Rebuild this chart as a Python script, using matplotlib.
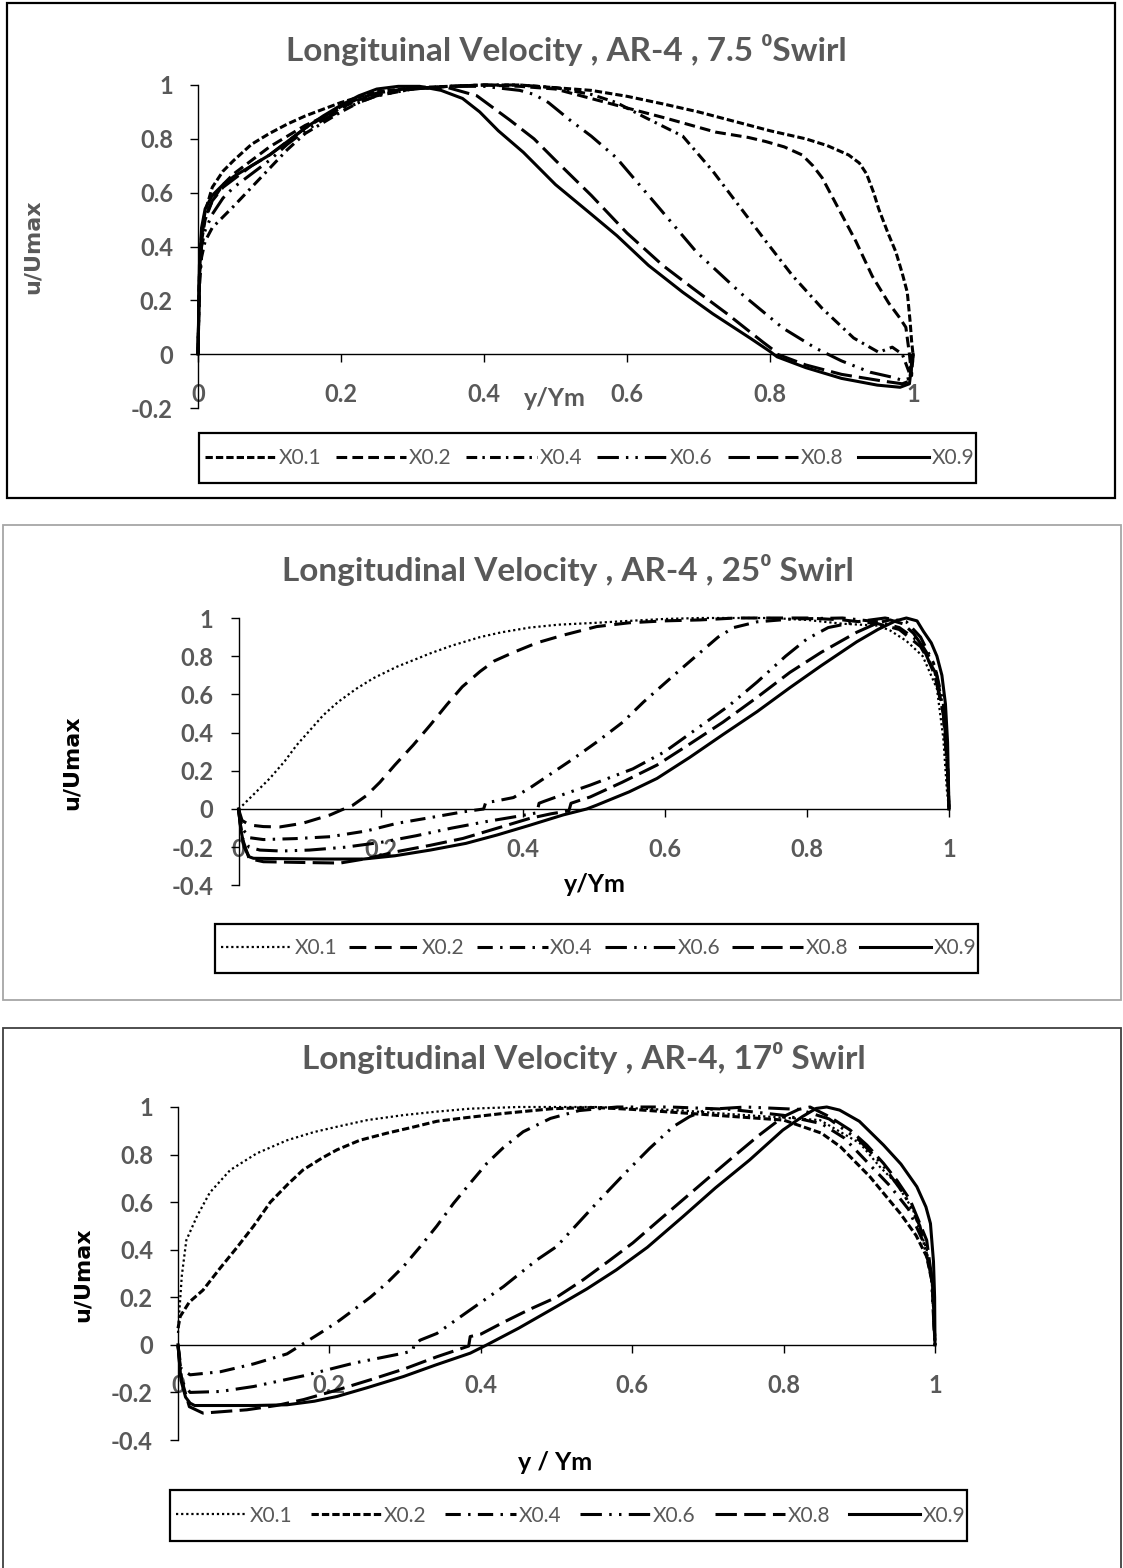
import matplotlib
matplotlib.use('Agg')
import matplotlib.pyplot as plt
from matplotlib.patches import Rectangle
from matplotlib.font_manager import FontProperties

W, H = 1123, 1568
fig = plt.figure(figsize=(W / 100, H / 100), dpi=100)

GRAY = '#595959'
CAL = ['Lato', 'DejaVu Sans']

series_names = ['X0.1', 'X0.2', 'X0.4', 'X0.6', 'X0.8', 'X0.9']
x_ticks = [0, 0.2, 0.4, 0.6, 0.8, 1]
x_tick_labels = ['0', '0.2', '0.4', '0.6', '0.8', '1']
p1_y_ticks = [-0.2, 0, 0.2, 0.4, 0.6, 0.8, 1]
p1_y_tick_labels = ['-0.2', '0', '0.2', '0.4', '0.6', '0.8', '1']
p23_y_ticks = [-0.4, -0.2, 0, 0.2, 0.4, 0.6, 0.8, 1]
p23_y_tick_labels = ['-0.4', '-0.2', '0', '0.2', '0.4', '0.6', '0.8', '1']

titles = ['Longituinal Velocity , AR-4 , 7.5 \u2070Swirl',
          'Longitudinal Velocity , AR-4 , 25\u2070 Swirl',
          'Longitudinal Velocity , AR-4, 17\u2070 Swirl']
x_labels = ['y/Ym', 'y/Ym', 'y / Ym']
y_label = 'u/Umax'

# ---------------- Panel 1 : 7.5 deg swirl ----------------
p1_y01 = [0, 0.002, 0.005, 0.01, 0.02, 0.035, 0.05, 0.075, 0.1, 0.125, 0.15, 0.175, 0.2, 0.225, 0.25, 0.3,
          0.35, 0.4, 0.45, 0.5, 0.55, 0.6, 0.65, 0.7, 0.75, 0.8, 0.85, 0.88, 0.91, 0.925, 0.935, 0.945,
          0.952, 0.965, 0.976, 0.985, 0.992, 0.996, 0.998, 1.0]
p1_u01 = [0, 0.3, 0.45, 0.53, 0.62, 0.68, 0.72, 0.78, 0.82, 0.855, 0.885, 0.91, 0.935, 0.955, 0.975, 0.99,
          0.995, 1.0, 1.0, 0.99, 0.98, 0.958, 0.93, 0.9, 0.865, 0.83, 0.8, 0.775, 0.74, 0.71, 0.67, 0.6,
          0.54, 0.45, 0.38, 0.3, 0.23, 0.12, 0.05, 0]
p1_y02 = [0, 0.002, 0.005, 0.01, 0.02, 0.035, 0.05, 0.075, 0.1, 0.125, 0.15, 0.175, 0.2, 0.225, 0.25, 0.3,
          0.35, 0.4, 0.45, 0.5, 0.585, 0.654, 0.724, 0.77, 0.794, 0.82, 0.845, 0.86, 0.873, 0.896, 0.92,
          0.943, 0.966, 0.98, 0.99, 0.995, 0.998, 1.0]
p1_u02 = [0, 0.28, 0.42, 0.5, 0.57, 0.63, 0.67, 0.72, 0.77, 0.81, 0.85, 0.88, 0.915, 0.945, 0.965, 0.985,
          0.995, 1.0, 0.995, 0.985, 0.925, 0.877, 0.825, 0.805, 0.79, 0.77, 0.74, 0.7, 0.655, 0.54, 0.42,
          0.29, 0.19, 0.14, 0.1, 0.0, -0.08, 0]
p1_y04 = [0, 0.002, 0.005, 0.01, 0.02, 0.035, 0.05, 0.075, 0.1, 0.125, 0.15, 0.175, 0.2, 0.225, 0.25, 0.3,
          0.35, 0.4, 0.45, 0.5, 0.55, 0.585, 0.625, 0.678, 0.72, 0.757, 0.794, 0.832, 0.873, 0.917, 0.952,
          0.971, 0.985, 0.995, 1.0]
p1_u04 = [0, 0.25, 0.36, 0.42, 0.47, 0.51, 0.55, 0.62, 0.69, 0.76, 0.82, 0.86, 0.9, 0.935, 0.96, 0.985,
          0.995, 1.0, 1.0, 0.99, 0.965, 0.935, 0.88, 0.81, 0.68, 0.55, 0.42, 0.29, 0.17, 0.06, 0.007,
          0.026, 0.0, -0.07, 0]
p1_y06 = [0, 0.002, 0.005, 0.01, 0.02, 0.035, 0.05, 0.075, 0.1, 0.125, 0.15, 0.175, 0.2, 0.225, 0.25, 0.3,
          0.35, 0.4, 0.45, 0.47, 0.49, 0.52, 0.55, 0.585, 0.646, 0.697, 0.762, 0.818, 0.864, 0.9, 0.94,
          0.97, 0.985, 0.995, 1.0]
p1_u06 = [0, 0.28, 0.4, 0.46, 0.52, 0.58, 0.62, 0.67, 0.72, 0.78, 0.83, 0.87, 0.905, 0.935, 0.96, 0.985,
          0.995, 0.995, 0.98, 0.965, 0.935, 0.87, 0.81, 0.73, 0.54, 0.38, 0.22, 0.097, 0.022, -0.025,
          -0.067, -0.085, -0.097, -0.09, 0]
p1_y08 = [0, 0.002, 0.005, 0.01, 0.02, 0.035, 0.05, 0.075, 0.1, 0.125, 0.15, 0.175, 0.2, 0.225, 0.25, 0.3,
          0.35, 0.39, 0.436, 0.47, 0.5, 0.55, 0.6, 0.65, 0.692, 0.74, 0.79, 0.805, 0.81, 0.85, 0.9, 0.958,
          0.985, 0.995, 1.0]
p1_u08 = [0, 0.3, 0.44, 0.51, 0.57, 0.62, 0.65, 0.7, 0.74, 0.79, 0.84, 0.88, 0.92, 0.95, 0.97, 0.99,
          0.99, 0.96, 0.87, 0.8, 0.72, 0.59, 0.45, 0.33, 0.245, 0.15, 0.045, 0.015, 0.0, -0.04, -0.075,
          -0.1, -0.11, -0.1, 0]
p1_y09 = [0, 0.002, 0.005, 0.01, 0.02, 0.035, 0.05, 0.075, 0.1, 0.125, 0.15, 0.175, 0.2, 0.225, 0.25, 0.28,
          0.31, 0.34, 0.37, 0.394, 0.42, 0.455, 0.5, 0.55, 0.586, 0.63, 0.678, 0.72, 0.772, 0.8, 0.81,
          0.85, 0.9, 0.95, 0.982, 0.995, 1.0]
p1_u09 = [0, 0.33, 0.47, 0.54, 0.59, 0.63, 0.66, 0.7, 0.74, 0.79, 0.84, 0.885, 0.925, 0.96, 0.985, 0.995,
          0.995, 0.98, 0.95, 0.9, 0.83, 0.75, 0.63, 0.52, 0.44, 0.33, 0.23, 0.15, 0.06, 0.01, -0.01,
          -0.05, -0.09, -0.115, -0.123, -0.11, 0]

# ---------------- Panel 2 : 25 deg swirl ----------------
p2_y01 = [0, 0.006, 0.025, 0.044, 0.065, 0.082, 0.1, 0.119, 0.14, 0.166, 0.19, 0.223, 0.25, 0.27, 0.3, 0.34,
          0.37, 0.41, 0.45, 0.504, 0.55, 0.6, 0.65, 0.7, 0.75, 0.8, 0.85, 0.9, 0.917, 0.94, 0.963, 0.983,
          0.992, 0.997, 1.0]
p2_u01 = [0, 0.02, 0.09, 0.16, 0.25, 0.335, 0.41, 0.49, 0.56, 0.63, 0.685, 0.745, 0.785, 0.815, 0.855, 0.9,
          0.925, 0.95, 0.965, 0.975, 0.985, 0.995, 1.0, 1.0, 1.0, 0.99, 0.97, 0.96, 0.935, 0.88, 0.8, 0.63,
          0.37, 0.1, 0]
p2_y02 = [0, 0.005, 0.016, 0.035, 0.058, 0.09, 0.129, 0.145, 0.161, 0.18, 0.199, 0.22, 0.246, 0.27, 0.293,
          0.315, 0.34, 0.36, 0.387, 0.42, 0.457, 0.504, 0.55, 0.6, 0.65, 0.7, 0.8, 0.85, 0.9, 0.93, 0.96,
          0.98, 0.992, 0.998, 1.0]
p2_u02 = [0, -0.06, -0.084, -0.092, -0.094, -0.075, -0.031, -0.005, 0.02, 0.07, 0.14, 0.23, 0.335, 0.44,
          0.545, 0.64, 0.72, 0.775, 0.82, 0.87, 0.91, 0.955, 0.975, 0.985, 0.99, 1.0, 1.0, 0.99, 0.97,
          0.94, 0.85, 0.72, 0.5, 0.2, 0]
p2_y04 = [0, 0.005, 0.015, 0.035, 0.08, 0.129, 0.18, 0.223, 0.27, 0.316, 0.345, 0.348, 0.36, 0.387, 0.41,
          0.434, 0.47, 0.504, 0.541, 0.57, 0.602, 0.625, 0.65, 0.675, 0.697, 0.73, 0.78, 0.85, 0.9, 0.93,
          0.96, 0.98, 0.992, 0.998, 1.0]
p2_u04 = [0, -0.1, -0.15, -0.16, -0.155, -0.145, -0.115, -0.075, -0.045, -0.015, 0.0, 0.035, 0.04, 0.06,
          0.11, 0.17, 0.26, 0.35, 0.455, 0.56, 0.665, 0.74, 0.82, 0.9, 0.95, 0.98, 0.995, 1.0, 0.98, 0.95,
          0.87, 0.75, 0.55, 0.25, 0]
p2_y06 = [0, 0.005, 0.015, 0.03, 0.06, 0.1, 0.15, 0.2, 0.25, 0.3, 0.35, 0.39, 0.42, 0.423, 0.43, 0.46,
          0.495, 0.555, 0.6, 0.645, 0.69, 0.73, 0.77, 0.8, 0.83, 0.87, 0.91, 0.94, 0.96, 0.98, 0.993,
          0.998, 1.0]
p2_u06 = [0, -0.15, -0.2, -0.215, -0.22, -0.215, -0.2, -0.175, -0.14, -0.1, -0.065, -0.04, -0.02, 0.03,
          0.04, 0.08, 0.125, 0.21, 0.3, 0.42, 0.54, 0.665, 0.8, 0.89, 0.95, 0.98, 1.0, 0.98, 0.9, 0.75,
          0.5, 0.2, 0]
p2_y08 = [0, 0.005, 0.015, 0.035, 0.09, 0.143, 0.18, 0.223, 0.27, 0.316, 0.36, 0.41, 0.44, 0.465, 0.468,
          0.48, 0.495, 0.54, 0.589, 0.635, 0.682, 0.73, 0.776, 0.82, 0.87, 0.9, 0.917, 0.935, 0.95, 0.963,
          0.98, 0.992, 0.998, 1.0]
p2_u08 = [0, -0.15, -0.26, -0.276, -0.28, -0.283, -0.26, -0.223, -0.19, -0.154, -0.105, -0.049, -0.025,
          -0.01, 0.03, 0.045, 0.063, 0.14, 0.23, 0.34, 0.455, 0.585, 0.715, 0.82, 0.925, 0.975, 0.99, 0.97,
          0.92, 0.85, 0.7, 0.5, 0.2, 0]
p2_y09 = [0, 0.003, 0.008, 0.015, 0.021, 0.06, 0.12, 0.176, 0.22, 0.27, 0.32, 0.364, 0.41, 0.457, 0.49,
          0.504, 0.55, 0.589, 0.635, 0.682, 0.73, 0.776, 0.82, 0.87, 0.9, 0.925, 0.94, 0.955, 0.964, 0.975,
          0.983, 0.99, 0.995, 0.998, 1.0]
p2_u09 = [0, -0.1, -0.2, -0.25, -0.258, -0.26, -0.262, -0.262, -0.245, -0.215, -0.18, -0.136, -0.085,
          -0.031, 0.0, 0.02, 0.09, 0.16, 0.27, 0.39, 0.51, 0.635, 0.75, 0.875, 0.94, 0.985, 1.0, 0.985,
          0.93, 0.87, 0.8, 0.7, 0.55, 0.35, 0]

# ---------------- Panel 3 : 17 deg swirl ----------------
p3_y01 = [0, 0.002, 0.005, 0.011, 0.025, 0.042, 0.069, 0.104, 0.144, 0.18, 0.21, 0.25, 0.298, 0.34, 0.386,
          0.45, 0.55, 0.6, 0.667, 0.73, 0.8, 0.848, 0.901, 0.927, 0.949, 0.971, 0.989, 0.996, 1.0]
p3_u01 = [0.05, 0.15, 0.29, 0.44, 0.54, 0.64, 0.735, 0.805, 0.86, 0.895, 0.917, 0.945, 0.966, 0.98, 0.993,
          1.0, 1.0, 0.995, 0.985, 0.97, 0.955, 0.945, 0.847, 0.749, 0.679, 0.567, 0.4, 0.25, 0]
p3_y02 = [0, 0.003, 0.015, 0.033, 0.055, 0.078, 0.1, 0.122, 0.145, 0.165, 0.19, 0.21, 0.24, 0.276, 0.31,
          0.342, 0.38, 0.43, 0.495, 0.55, 0.6, 0.667, 0.733, 0.8, 0.85, 0.875, 0.914, 0.954, 0.975, 0.989,
          0.997, 1.0]
p3_u02 = [0.07, 0.12, 0.18, 0.23, 0.32, 0.41, 0.5, 0.6, 0.675, 0.735, 0.785, 0.82, 0.86, 0.89, 0.915, 0.94,
          0.955, 0.973, 0.993, 0.998, 0.99, 0.975, 0.96, 0.945, 0.89, 0.833, 0.707, 0.553, 0.46, 0.371,
          0.25, 0]
p3_y04 = [0, 0.004, 0.016, 0.056, 0.1, 0.144, 0.166, 0.188, 0.21, 0.232, 0.254, 0.276, 0.298, 0.32, 0.342,
          0.364, 0.386, 0.408, 0.43, 0.456, 0.492, 0.53, 0.58, 0.65, 0.73, 0.8, 0.85, 0.88, 0.91, 0.94,
          0.965, 0.985, 0.996, 1.0]
p3_u04 = [0, -0.1, -0.126, -0.113, -0.08, -0.038, 0.006, 0.05, 0.095, 0.147, 0.2, 0.26, 0.33, 0.413, 0.5,
          0.595, 0.68, 0.763, 0.83, 0.896, 0.952, 0.985, 1.0, 1.0, 0.99, 0.965, 0.93, 0.87, 0.77, 0.67,
          0.57, 0.43, 0.28, 0]
p3_y06 = [0, 0.004, 0.016, 0.056, 0.1, 0.166, 0.232, 0.298, 0.31, 0.312, 0.32, 0.342, 0.386, 0.43, 0.474,
          0.5, 0.553, 0.59, 0.623, 0.654, 0.676, 0.7, 0.75, 0.82, 0.86, 0.9, 0.93, 0.96, 0.98, 0.995, 1.0]
p3_u06 = [0, -0.15, -0.2, -0.196, -0.175, -0.13, -0.077, -0.035, -0.025, 0.0, 0.02, 0.048, 0.147, 0.245,
          0.357, 0.413, 0.596, 0.72, 0.826, 0.917, 0.96, 0.99, 1.0, 0.99, 0.95, 0.86, 0.76, 0.63, 0.5, 0.3, 0]
p3_y08 = [0, 0.005, 0.015, 0.033, 0.091, 0.13, 0.166, 0.21, 0.254, 0.3, 0.342, 0.37, 0.384, 0.386, 0.4, 0.43,
          0.465, 0.5, 0.535, 0.568, 0.601, 0.634, 0.667, 0.7, 0.734, 0.767, 0.8, 0.82, 0.835, 0.86, 0.888,
          0.91, 0.932, 0.95, 0.967, 0.989, 0.997, 1.0]
p3_u08 = [0, -0.15, -0.26, -0.287, -0.273, -0.255, -0.23, -0.19, -0.147, -0.1, -0.05, -0.02, -0.005, 0.035,
          0.045, 0.095, 0.15, 0.2, 0.273, 0.35, 0.429, 0.52, 0.61, 0.7, 0.792, 0.88, 0.96, 0.99, 1.0, 0.96,
          0.903, 0.84, 0.763, 0.69, 0.61, 0.44, 0.25, 0]
p3_y09 = [0, 0.004, 0.01, 0.016, 0.022, 0.06, 0.1, 0.144, 0.18, 0.21, 0.25, 0.298, 0.34, 0.386, 0.408, 0.45,
          0.5, 0.54, 0.579, 0.62, 0.667, 0.71, 0.755, 0.799, 0.825, 0.843, 0.857, 0.874, 0.9, 0.932, 0.955,
          0.976, 0.988, 0.994, 0.998, 0.9995, 1.0]
p3_u09 = [0, -0.15, -0.22, -0.245, -0.255, -0.255, -0.255, -0.252, -0.237, -0.217, -0.18, -0.133, -0.085,
          -0.035, 0.0, 0.07, 0.161, 0.235, 0.315, 0.41, 0.539, 0.66, 0.777, 0.903, 0.96, 0.994, 1.0, 0.987,
          0.94, 0.84, 0.76, 0.665, 0.58, 0.51, 0.35, 0.2, 0]

panels = [
    dict(y=[p1_y01, p1_y02, p1_y04, p1_y06, p1_y08, p1_y09],
         u=[p1_u01, p1_u02, p1_u04, p1_u06, p1_u08, p1_u09],
         yticks=p1_y_ticks, ylabels=p1_y_tick_labels, ylim=(-0.2, 1)),
    dict(y=[p2_y01, p2_y02, p2_y04, p2_y06, p2_y08, p2_y09],
         u=[p2_u01, p2_u02, p2_u04, p2_u06, p2_u08, p2_u09],
         yticks=p23_y_ticks, ylabels=p23_y_tick_labels, ylim=(-0.4, 1)),
    dict(y=[p3_y01, p3_y02, p3_y04, p3_y06, p3_y08, p3_y09],
         u=[p3_u01, p3_u02, p3_u04, p3_u06, p3_u08, p3_u09],
         yticks=p23_y_ticks, ylabels=p23_y_tick_labels, ylim=(-0.4, 1)),
]

# ---- styles (line width, dash pattern) per panel ----
LW = 2.2
styles = [
    [(LW, (0, (2.4, 1.0))), (LW, (0, (3.5, 1.7))), (LW, (0, (3.5, 1.7, 0.8, 1.7))),
     (LW, (0, (7, 2.3, 0.8, 2.3, 0.8, 2.3))), (LW, (0, (7, 2.3))), (LW, '-')],
    [(1.6, (0, (1, 1.3))), (LW, (0, (5.5, 2.8))), (LW, (0, (5, 2.4, 0.8, 2.4))),
     (LW, (0, (7, 2.4, 0.8, 2.4, 0.8, 2.4))), (LW, (0, (7, 2.4))), (LW, '-')],
    [(1.6, (0, (1, 1.3))), (LW, (0, (2.4, 1.0))), (LW, (0, (5, 2.4, 0.8, 2.4))),
     (LW, (0, (7, 2.4, 0.8, 2.4, 0.8, 2.4))), (LW, (0, (7, 2.4))), (LW, '-')],
]

# ---- layout in pixels ----
axes_px = [(198, 913, 85, 408), (238.5, 949, 618, 885.4), (178, 935, 1107, 1440)]
title_px = [(566, 50), (568, 570), (584, 1058)]
xlabel_px = [(555, 398), (595, 885), (555, 1462)]
ylabel_px = [(43, 247), (82, 763), (93, 1275)]
legend_px = [(199, 433, 976, 483), (215, 924, 978, 973), (170, 1490, 967, 1541)]
border_px = [(7, 3, 1115, 498, 'black', 1.6), (3, 525, 1121, 1000, '#a6a6a6', 1.3),
             (3, 1028, 1121, 1580, '#404040', 1.3)]
axis_label_color = [GRAY, 'black', 'black']


def fx(x):
    return x / W


def fy(y):
    return 1 - y / H


for (x0, y0, x1, y1, col, lw) in border_px:
    fig.add_artist(Rectangle((fx(x0), fy(y1)), fx(x1) - fx(x0), fy(y0) - fy(y1),
                             transform=fig.transFigure, fill=False, edgecolor=col, linewidth=lw))

tick_font = FontProperties(family=CAL, weight='bold', size=17)
for i, p in enumerate(panels):
    l, r, t, b = axes_px[i]
    ax = fig.add_axes([fx(l), fy(b), fx(r) - fx(l), fy(t) - fy(b)])
    ax.set_xlim(0, 1)
    ax.set_ylim(*p['ylim'])
    ax.patch.set_alpha(0)
    handles = []
    for k in range(6):
        lw, ls = styles[i][k]
        ln, = ax.plot(p['y'][k], p['u'][k], color='black', linewidth=lw, linestyle=ls,
                      clip_on=False, solid_joinstyle='round', dash_joinstyle='round')
        handles.append(ln)
    for s in ['top', 'right']:
        ax.spines[s].set_visible(False)
    ax.spines['bottom'].set_position(('data', 0))
    ax.spines['bottom'].set_color('black')
    ax.spines['left'].set_color('black')
    ax.spines['bottom'].set_linewidth(1.0)
    ax.spines['left'].set_linewidth(1.0)
    ax.set_xticks(x_ticks)
    ax.set_xticklabels(x_tick_labels)
    ax.set_yticks(p['yticks'])
    ax.set_yticklabels(p['ylabels'])
    ax.tick_params(axis='x', direction='out', length=6, width=1, pad=15, colors='black', labelcolor=GRAY)
    ax.tick_params(axis='y', direction='out', length=6, width=1, pad=12, colors='black', labelcolor=GRAY)
    for lab in ax.get_xticklabels() + ax.get_yticklabels():
        lab.set_fontproperties(tick_font)

    # labels
    ax.set_ylabel(y_label, fontsize=16, fontweight='bold', family='DejaVu Sans',
                  color=axis_label_color[i])
    ax.yaxis.set_label_coords(fx(ylabel_px[i][0]), fy(ylabel_px[i][1]), transform=fig.transFigure)
    ax.set_xlabel(x_labels[i], fontsize=18, fontweight='bold', family=CAL, color=axis_label_color[i])
    ax.xaxis.set_label_coords(fx(xlabel_px[i][0]), fy(xlabel_px[i][1]), transform=fig.transFigure)
    ax.xaxis.label.set_va('center')

    fig.text(fx(title_px[i][0]), fy(title_px[i][1]), titles[i], ha='center', va='center',
             fontsize=24, fontweight='bold', family=CAL, color=GRAY)

    # legend
    x0, y0, x1, y1 = legend_px[i]
    fig.add_artist(Rectangle((fx(x0), fy(y1)), fx(x1) - fx(x0), fy(y0) - fy(y1),
                             transform=fig.transFigure, facecolor='white', edgecolor='black',
                             linewidth=1.6, zorder=5))
    leg = fig.legend(handles, series_names, loc='center', ncol=6, frameon=False, mode='expand',
                     bbox_to_anchor=(fx(x0 + 6), fy(y1), fx(x1 - 2) - fx(x0 + 6), fy(y0) - fy(y1)),
                     bbox_transform=fig.transFigure, borderaxespad=0, borderpad=0,
                     prop=FontProperties(family=CAL, size=15), labelcolor=GRAY,
                     handlelength=3.4, handletextpad=0.12, columnspacing=0.2)
    leg.set_zorder(6)

fig.savefig('out.png', dpi=100)
